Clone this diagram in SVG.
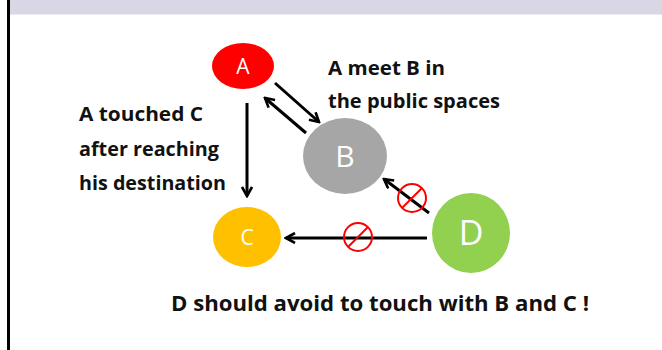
<svg xmlns="http://www.w3.org/2000/svg" width="662" height="350" viewBox="0 0 662 350">
<defs>
<marker id="arr" viewBox="0 0 12 12" refX="10" refY="6" markerWidth="12" markerHeight="12" markerUnits="userSpaceOnUse" orient="auto">
<path d="M1,1 L10,6 L1,11" fill="none" stroke="#000" stroke-width="2.6"/>
</marker>
</defs>
<style>
.lbl{font-family:"Open Sans","Liberation Sans",Arial,sans-serif;font-weight:bold;fill:#111}
.nl{font-family:"Open Sans","Liberation Sans",Arial,sans-serif;fill:#fff;text-anchor:middle}
.c{stroke:#000;stroke-width:3;fill:none;marker-end:url(#arr)}
.no{fill:none;stroke:#ff0000;stroke-width:2}
</style>
<rect x="0" y="0" width="662" height="350" fill="#fff"/>
<rect x="10" y="0" width="652" height="14.5" fill="#d9d7e6"/>
<line x1="8.5" y1="0" x2="8.5" y2="350" stroke="#000" stroke-width="3"/>
<g id="connectors">
<line class="c" x1="247" y1="103" x2="247" y2="196"/>
<line class="c" x1="275" y1="83" x2="319" y2="122"/>
<line class="c" x1="306" y1="133" x2="265" y2="98"/>
<line class="c" x1="429" y1="213" x2="384" y2="179"/>
<line class="c" x1="427" y1="238" x2="286" y2="238"/>
<g id="ban1"><circle class="no" cx="412" cy="198" r="14"/><line class="no" x1="422" y1="188" x2="402" y2="208"/></g>
<g id="ban2"><circle class="no" cx="358" cy="237" r="14"/><line class="no" x1="368" y1="227" x2="348" y2="247"/></g>
</g>
<g id="nodeA"><ellipse cx="243" cy="66" rx="31" ry="23" fill="#ff0000"/><text class="nl" x="243" y="74" font-size="21">A</text></g>
<g id="nodeB"><ellipse cx="345" cy="156" rx="42" ry="38" fill="#a6a6a6"/><text class="nl" x="345" y="167" font-size="30">B</text></g>
<g id="nodeC"><ellipse cx="247" cy="237" rx="34" ry="30" fill="#ffc000"/><text class="nl" x="247" y="245" font-size="21">C</text></g>
<g id="nodeD"><ellipse cx="471" cy="233" rx="39" ry="40" fill="#92d050"/><text class="nl" x="471" y="245" font-size="34">D</text></g>
<g id="labels">
<text class="lbl" x="79" y="121" font-size="20" textLength="124" lengthAdjust="spacingAndGlyphs">A touched C</text>
<text class="lbl" x="79" y="156" font-size="20" textLength="140" lengthAdjust="spacingAndGlyphs">after reaching</text>
<text class="lbl" x="79" y="190" font-size="20" textLength="147" lengthAdjust="spacingAndGlyphs">his destination</text>
<text class="lbl" x="328" y="75" font-size="20" textLength="117" lengthAdjust="spacingAndGlyphs">A meet B in</text>
<text class="lbl" x="328" y="108" font-size="20" textLength="172" lengthAdjust="spacingAndGlyphs">the public spaces</text>
<text class="lbl" x="171" y="311" font-size="22" textLength="418" lengthAdjust="spacingAndGlyphs">D should avoid to touch with B and C !</text>
</g>
</svg>
